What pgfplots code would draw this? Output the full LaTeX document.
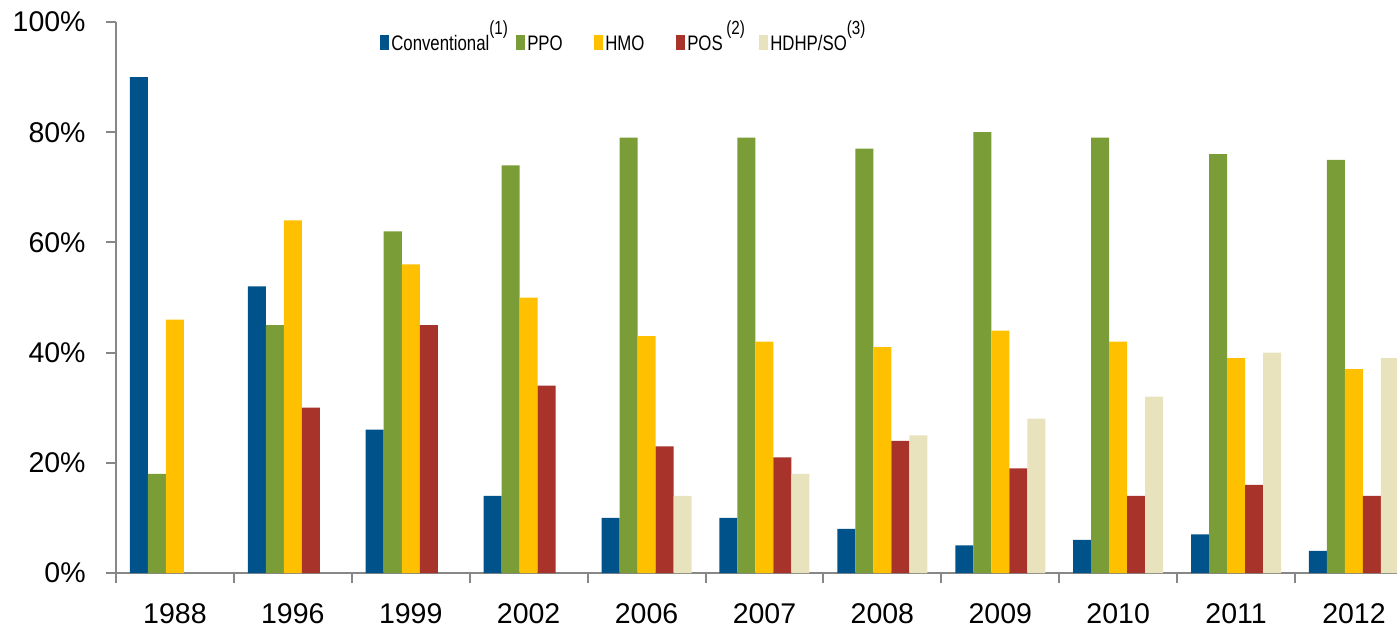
\documentclass[border=0pt]{standalone}
\usepackage{fontspec}
\setmainfont{Liberation Sans}
\newfontfamily\narrowfont[FakeStretch=0.8]{Liberation Sans}
\usepackage{pgfplots}
\usepackage{pgfplotstable}
\pgfplotsset{compat=1.18}

\definecolor{conv}{HTML}{00538A}
\definecolor{ppo}{HTML}{7A9D37}
\definecolor{hmo}{HTML}{FFC000}
\definecolor{pos}{HTML}{A8332A}
\definecolor{hdhp}{HTML}{E8E3BC}
\definecolor{axgray}{HTML}{878787}

\newcommand{\note}[1]{\raisebox{8pt}{\fontsize{9.5}{10}\selectfont(#1)}}
\newcommand{\ticks}{\fontsize{14.25}{16}\selectfont}

% share of covered workers by plan type, percent
\pgfplotstableread{
x  conv ppo hmo pos hdhp
0  90   18  46  nan nan
1  52   45  64  30  nan
2  26   62  56  45  nan
3  14   74  50  34  nan
4  10   79  43  23  14
5  10   79  42  21  18
6  8    77  41  24  25
7  5    80  44  19  28
8  6    79  42  14  32
9  7    76  39  16  40
10 4    75  37  14  39
}\plans

\begin{document}
\begin{tikzpicture}
\begin{axis}[
  scale only axis,
  width=640.5pt, height=275.5pt,
  xmin=-0.5, xmax=10.365,
  ymin=0, ymax=100,
  axis lines*=left,
  axis line style={axgray, line width=1pt},
  ybar, bar width=0.1527,
  ytick={0,20,...,100},
  minor ytick={0,20,...,100},
  yticklabel={\pgfmathprintnumber{\tick}\%},
  xtick={0,...,10},
  xticklabels={1988,1996,1999,2002,2006,2007,2008,2009,2010,2011,2012},
  minor xtick={-0.5,0.5,...,9.5},
  tick align=outside,
  major tick length=0pt, minor tick length=5pt,
  every tick/.style={axgray, line width=1pt},
  /pgf/number format/assume math mode=true,
  xticklabel style={font=\ticks, inner sep=0pt, anchor=north, yshift=-15pt},
  yticklabel style={font=\ticks, inner sep=0pt, anchor=east, xshift=-15pt},
  legend style={at={(0.206,1.0036)}, anchor=north west, draw=none, fill=none,
    legend columns=5, column sep=0pt, inner sep=0pt,
    font=\narrowfont\fontsize{10.5}{12}\selectfont,
    nodes={inner sep=0pt}, cells={anchor=base west}},
  legend image code/.code={\fill[#1] (0pt,0pt) rectangle (4.5pt,7.5pt);},
]
\addplot[fill=conv, draw=none, bar shift=-0.3054] table[x=x, y=conv] {\plans};
\addlegendentry{\makebox[63.5pt][l]{\hspace{1pt}Conventional\note{1}}}
\addplot[fill=ppo, draw=none, bar shift=-0.1527] table[x=x, y=ppo] {\plans};
\addlegendentry{\makebox[34.5pt][l]{\hspace{1pt}PPO}}
\addplot[fill=hmo, draw=none, bar shift=0] table[x=x, y=hmo] {\plans};
\addlegendentry{\makebox[36.5pt][l]{\hspace{1pt}HMO}}
\addplot[fill=pos, draw=none, bar shift=0.1527] table[x=x, y=pos] {\plans};
\addlegendentry{\makebox[37pt][l]{\hspace{1pt}POS\,\note{2}}}
\addplot[fill=hdhp, draw=none, bar shift=0.3054] table[x=x, y=hdhp] {\plans};
\addlegendentry{\hspace{1pt}HDHP/SO\note{3}}
\coordinate (bl) at (rel axis cs:0,0);
\coordinate (tr) at (rel axis cs:1,1);
\end{axis}
\pgfresetboundingbox
\path[use as bounding box] ([xshift=-58pt,yshift=-27.5pt]bl) rectangle ([yshift=11pt]tr);
\end{tikzpicture}
\end{document}
